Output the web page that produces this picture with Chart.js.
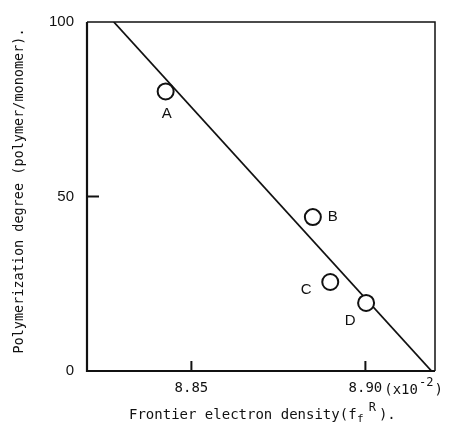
<!DOCTYPE html>
<html>
<head>
<meta charset="utf-8">
<script src="https://cdn.jsdelivr.net/npm/chart.js@4/dist/chart.umd.min.js"></script>
<style>
html,body{margin:0;padding:0;background:#fff;}
#wrap{width:452px;height:426px;position:relative;}
</style>
</head>
<body>
<div id="wrap"><canvas id="c" width="452" height="426"></canvas></div>
<script>
// ---- data ----
const pointNames = ['A', 'B', 'C', 'D'];
const densityValues = [8.8426, 8.8849, 8.8899, 8.9002];   // frontier electron density (x10^-2)
const degreeValues = [80.1, 44.1, 25.5, 19.5];           // polymerization degree
const fitLineX = [8.8277, 8.919];
const fitLineY = [100, 0];
const xTickValues = [8.85, 8.90];
const xTickLabels = ['8.85', '8.90'];
const yTickValues = [0, 50, 100];
const yTickLabels = ['0', '50', '100'];
const xTitleMain = 'Frontier electron density(f';
const xTitleSub = 'f';
const xTitleSup = 'R';
const xTitleEnd = ').';
const yTitle = 'Polymerization degree (polymer/monomer).';
const xUnitPrefix = '(x10';
const xUnitExp = '-2';
const xUnitEnd = ')';

const INK = '#111';
const MONO = '"DejaVu Sans Mono", "Liberation Mono", monospace';
const SANS = '"Liberation Sans", Arial, sans-serif';

const labelOffsets = { A: [1, 22], B: [20, 0], C: [-24, 8], D: [-16, 18] };

const decorPlugin = {
  id: 'decor',
  afterDatasetsDraw(chart) {
    const ctx = chart.ctx;
    const a = chart.chartArea;
    const xs = chart.scales.x, ys = chart.scales.y;
    ctx.save();
    // frame
    ctx.strokeStyle = INK;
    ctx.lineWidth = 1.5;
    ctx.beginPath();
    ctx.moveTo(a.left, a.top); ctx.lineTo(a.right, a.top); ctx.lineTo(a.right, a.bottom);
    ctx.stroke();
    ctx.lineWidth = 2.2;
    ctx.beginPath();
    ctx.moveTo(a.left, a.top); ctx.lineTo(a.left, a.bottom); ctx.lineTo(a.right, a.bottom);
    ctx.stroke();
    // inward ticks
    ctx.lineWidth = 2;
    yTickValues.forEach(v => {
      if (v === 0 || v === 100) return;
      const y = ys.getPixelForValue(v);
      ctx.beginPath(); ctx.moveTo(a.left, y); ctx.lineTo(a.left + 12, y); ctx.stroke();
    });
    xTickValues.forEach(v => {
      const x = xs.getPixelForValue(v);
      ctx.beginPath(); ctx.moveTo(x, a.bottom); ctx.lineTo(x, a.bottom - 10); ctx.stroke();
    });
    // point labels
    ctx.fillStyle = INK;
    ctx.font = '15px ' + SANS;
    ctx.textAlign = 'center';
    ctx.textBaseline = 'middle';
    pointNames.forEach((n, i) => {
      const off = labelOffsets[n];
      ctx.fillText(n, xs.getPixelForValue(densityValues[i]) + off[0], ys.getPixelForValue(degreeValues[i]) + off[1]);
    });
    // unit suffix after last x tick
    ctx.textAlign = 'left';
    ctx.textBaseline = 'alphabetic';
    ctx.font = '14px ' + MONO;
    const lastX = xs.getPixelForValue(xTickValues[xTickValues.length - 1]);
    const lw = ctx.measureText(xTickLabels[xTickLabels.length - 1]).width;
    let ux = lastX + lw / 2 + 2;
    const ub = 393.5;
    ctx.fillText(xUnitPrefix, ux, ub);
    ux += ctx.measureText(xUnitPrefix).width + 1;
    ctx.font = '12px ' + MONO;
    ctx.fillText(xUnitExp, ux, ub - 8);
    ux += ctx.measureText(xUnitExp).width + 1;
    ctx.font = '14px ' + MONO;
    ctx.fillText(xUnitEnd, ux, ub);
    // x title
    let tx = 129;
    const tb = 419;
    ctx.font = '14px ' + MONO;
    ctx.fillText(xTitleMain, tx, tb);
    tx += ctx.measureText(xTitleMain).width + 0.5;
    ctx.font = '11px ' + MONO;
    ctx.fillText(xTitleSub, tx, tb + 3);
    tx += ctx.measureText(xTitleSub).width + 5;
    ctx.font = '12px ' + MONO;
    ctx.fillText(xTitleSup, tx, tb - 8);
    tx += ctx.measureText(xTitleSup).width + 3;
    ctx.font = '14px ' + MONO;
    ctx.fillText(xTitleEnd, tx, tb);
    // y title
    ctx.save();
    ctx.translate(19, 191);
    ctx.rotate(-Math.PI / 2);
    ctx.textAlign = 'center';
    ctx.textBaseline = 'middle';
    ctx.font = '13.5px ' + MONO;
    ctx.fillText(yTitle, 0, 0);
    ctx.restore();
    ctx.restore();
  }
};

new Chart(document.getElementById('c'), {
  type: 'scatter',
  data: {
    datasets: [
      {
        label: 'samples',
        data: densityValues.map((x, i) => ({ x: x, y: degreeValues[i] })),
        pointStyle: 'circle',
        pointRadius: 8,
        pointBorderWidth: 2,
        pointBorderColor: INK,
        pointBackgroundColor: '#fff',
        showLine: false
      },
      {
        label: 'fit',
        data: fitLineX.map((x, i) => ({ x: x, y: fitLineY[i] })),
        showLine: true,
        borderColor: INK,
        borderWidth: 1.8,
        pointRadius: 0,
        fill: false
      }
    ]
  },
  options: {
    responsive: false,
    animation: false,
    layout: { padding: { top: 21, right: 17, left: 0, bottom: 0 } },
    plugins: { legend: { display: false }, tooltip: { enabled: false } },
    scales: {
      x: {
        type: 'linear',
        min: 8.82, max: 8.92,
        grid: { display: false, drawTicks: false },
        border: { display: false },
        afterBuildTicks: s => { s.ticks = xTickValues.map(v => ({ value: v })); },
        afterFit: s => { s.height = 55; },
        ticks: {
          color: INK,
          padding: 9,
          maxRotation: 0,
          font: { family: MONO, size: 14 },
          callback: (v) => { const i = xTickValues.findIndex(t => Math.abs(t - v) < 1e-9); return i >= 0 ? xTickLabels[i] : ''; }
        }
      },
      y: {
        min: 0, max: 100,
        grid: { display: false, drawTicks: false },
        border: { display: false },
        afterBuildTicks: s => { s.ticks = yTickValues.map(v => ({ value: v })); },
        afterFit: s => { s.width = 87; },
        ticks: {
          color: INK,
          padding: 13,
          font: { family: SANS, size: 15 },
          callback: (v) => { const i = yTickValues.indexOf(v); return i >= 0 ? yTickLabels[i] : ''; }
        }
      }
    }
  },
  plugins: [decorPlugin]
});
</script>
</body>
</html>
